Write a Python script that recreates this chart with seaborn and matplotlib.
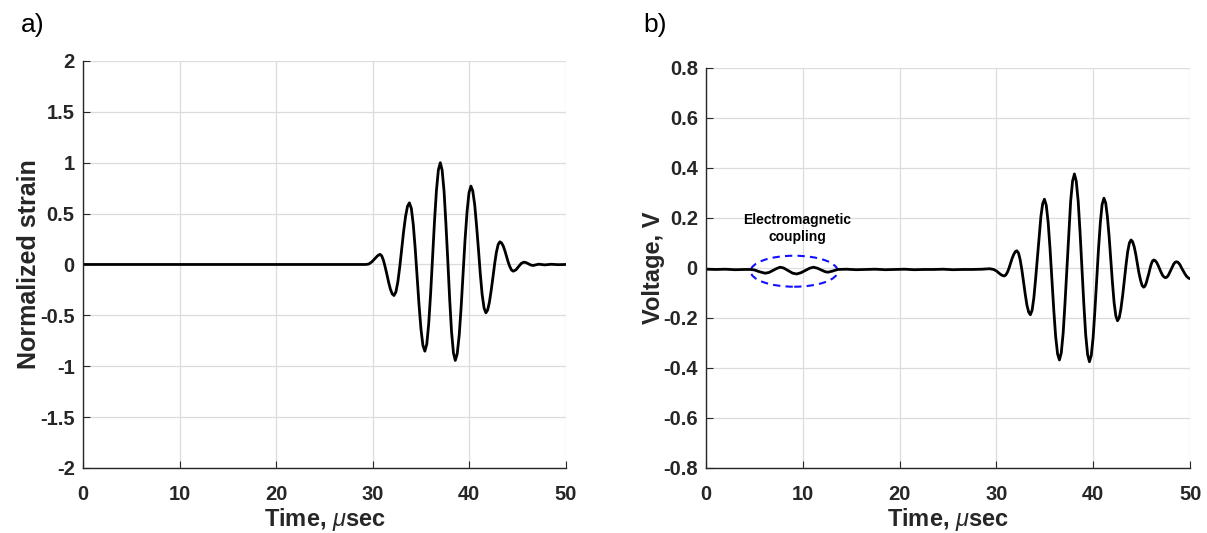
import numpy as np
import pandas as pd
import matplotlib
matplotlib.use("Agg")
import matplotlib.pyplot as plt
from matplotlib.patches import Ellipse
import seaborn as sns

# ---- Panel a) : normalized strain (read from picture) ----
time_a = [0.0, 10.0, 20.0, 29.0, 29.3, 29.6, 29.9, 30.2, 30.5, 30.75,
          30.93, 31.11, 31.29, 31.48, 31.66, 31.84, 32.02, 32.2,
          32.4, 32.6, 32.8, 33.0, 33.2, 33.4, 33.6, 33.8,
          34.0, 34.2, 34.4, 34.6, 34.8, 35.0, 35.2, 35.4,
          35.6, 35.8, 36.0, 36.2, 36.4, 36.6, 36.8, 37.0,
          37.19, 37.39, 37.58, 37.78, 37.97, 38.16, 38.36, 38.55,
          38.75, 38.96, 39.16, 39.36, 39.56, 39.77, 39.97, 40.17,
          40.36, 40.56, 40.75, 40.95, 41.14, 41.33, 41.53, 41.72,
          41.9, 42.08, 42.26, 42.45, 42.63, 42.81, 42.99, 43.17,
          43.34, 43.52, 43.69, 43.86, 44.03, 44.21, 44.38, 44.55,
          44.83, 45.1, 45.38, 45.65, 45.89, 46.13, 46.36, 46.6,
          47.2, 47.8, 48.5, 49.2, 50.0]
strain_a = [0.0, 0.0, 0.0, 0.0, 0.0, 0.005, 0.025, 0.055, 0.085, 0.10,
            0.085, 0.041, -0.025, -0.1025, -0.18, -0.246, -0.289, -0.305,
            -0.27, -0.172, -0.024, 0.15, 0.325, 0.472, 0.571, 0.606,
            0.551, 0.392, 0.156, -0.123, -0.402, -0.638, -0.797, -0.852,
            -0.782, -0.581, -0.28, 0.074, 0.428, 0.729, 0.93, 1.0,
            0.926, 0.716, 0.40, 0.029, -0.343, -0.658, -0.869, -0.943,
            -0.878, -0.692, -0.414, -0.087, 0.241, 0.519, 0.705, 0.77,
            0.723, 0.588, 0.386, 0.148, -0.091, -0.293, -0.428, -0.475,
            -0.448, -0.373, -0.26, -0.126, 0.008, 0.121, 0.196, 0.223,
            0.212, 0.181, 0.134, 0.079, 0.023, -0.024, -0.055, -0.066,
            -0.053, -0.0215, 0.01, 0.023, 0.018, 0.0065, -0.005, -0.01,
            0.003, -0.004, 0.002, -0.002, 0.0]

# ---- Panel b) : voltage (read from picture) ----
time_b = [0.0, 1.0, 2.0, 3.0, 4.0, 4.6, 5.0, 5.5, 6.1, 6.5, 6.9, 7.3, 7.64,
          8.0, 8.5, 8.95, 9.37, 9.8, 10.2, 10.7, 11.1, 11.5, 11.9, 12.3,
          12.6, 13.1, 13.6, 14.5, 15.5, 16.5, 17.5, 18.5, 19.5, 20.5,
          21.5, 22.5, 23.5, 24.5, 25.5, 26.5, 27.5, 28.5,
          29.3, 29.7, 30.0, 30.3, 30.55, 30.8,
          30.96, 31.13, 31.29, 31.45, 31.61, 31.78, 31.94, 32.1,
          32.28, 32.45, 32.63, 32.8, 32.98, 33.15, 33.33, 33.5,
          33.68, 33.86, 34.04, 34.23, 34.41, 34.59, 34.77, 34.95,
          35.14, 35.34, 35.53, 35.73, 35.92, 36.11, 36.31, 36.5,
          36.69, 36.89, 37.08, 37.28, 37.47, 37.66, 37.86, 38.05,
          38.24, 38.44, 38.63, 38.83, 39.02, 39.21, 39.41, 39.6,
          39.79, 39.98, 40.16, 40.35, 40.54, 40.73, 40.91, 41.1,
          41.28, 41.45, 41.63, 41.8, 41.98, 42.15, 42.33, 42.5,
          42.68, 42.85, 43.03, 43.2, 43.38, 43.55, 43.73, 43.9,
          44.06, 44.23, 44.39, 44.55, 44.71, 44.88, 45.04, 45.2,
          45.33, 45.46, 45.59, 45.73, 45.86, 45.99, 46.12, 46.25,
          46.4, 46.55, 46.7, 46.85, 47.0, 47.15, 47.3, 47.45,
          47.59, 47.74, 47.88, 48.03, 48.17, 48.31, 48.46, 48.6,
          48.77, 48.95, 49.12, 49.3, 49.47, 49.65, 49.82, 50.0]
volt_b = [-0.005, -0.006, -0.005, -0.007, -0.006, -0.006, -0.008, -0.015,
          -0.021, -0.018, -0.010, -0.002, 0.003,
          0.0, -0.011, -0.021, -0.024, -0.019, -0.011, -0.001, 0.003,
          -0.001, -0.008, -0.015,
          -0.017, -0.012, -0.006, -0.005, -0.007, -0.006, -0.005, -0.007,
          -0.006, -0.005, -0.007, -0.006, -0.006, -0.005, -0.007, -0.006,
          -0.006, -0.005,
          -0.003, -0.006, -0.012, -0.022, -0.029, -0.032,
          -0.028, -0.017, -0.001, 0.019, 0.038, 0.054, 0.065, 0.069,
          0.059, 0.032, -0.010, -0.059, -0.108, -0.15, -0.177, -0.187,
          -0.169, -0.119, -0.044, 0.044, 0.132, 0.207, 0.257, 0.275,
          0.251, 0.181, 0.077, -0.047, -0.17, -0.274, -0.344, -0.368,
          -0.34, -0.259, -0.138, 0.004, 0.146, 0.267, 0.348, 0.376,
          0.347, 0.266, 0.144, 0.0, -0.143, -0.265, -0.346, -0.375,
          -0.35, -0.279, -0.173, -0.048, 0.077, 0.183, 0.254, 0.279,
          0.26, 0.207, 0.128, 0.034, -0.06, -0.139, -0.192, -0.211,
          -0.199, -0.164, -0.111, -0.05, 0.012, 0.065, 0.10, 0.112,
          0.105, 0.084, 0.054, 0.018, -0.019, -0.049, -0.07, -0.077,
          -0.073, -0.061, -0.043, -0.023, -0.002, 0.016, 0.028, 0.032,
          0.029, 0.022, 0.01, -0.004, -0.017, -0.029, -0.036, -0.039,
          -0.037, -0.03, -0.019, -0.007, 0.005, 0.016, 0.023, 0.025,
          0.022, 0.013, 0.0, -0.012, -0.024, -0.034, -0.04, -0.043]

xticks = [0, 10, 20, 30, 40, 50]
yticks_a = [-2, -1.5, -1, -0.5, 0, 0.5, 1, 1.5, 2]
ytick_labels_a = ["-2", "-1.5", "-1", "-0.5", "0", "0.5", "1", "1.5", "2"]
yticks_b = [-0.8, -0.6, -0.4, -0.2, 0, 0.2, 0.4, 0.6, 0.8]
ytick_labels_b = ["-0.8", "-0.6", "-0.4", "-0.2", "0", "0.2", "0.4", "0.6", "0.8"]

sns.set_theme(style="whitegrid")
plt.rcParams["font.family"] = ["Liberation Sans", "DejaVu Sans"]
plt.rcParams["mathtext.fontset"] = "custom"
plt.rcParams["mathtext.it"] = "Liberation Sans:italic"
plt.rcParams["mathtext.rm"] = "Liberation Sans:bold"

TXT = "#262626"
fig = plt.figure(figsize=(12.07, 5.33), dpi=100)
ax1 = fig.add_axes([0.0688, 0.122, 0.400, 0.7636])
ax2 = fig.add_axes([0.585, 0.122, 0.401, 0.7505])

df_a = pd.DataFrame({"t": time_a, "v": strain_a})
df_b = pd.DataFrame({"t": time_b, "v": volt_b})
sns.lineplot(data=df_a, x="t", y="v", ax=ax1, color="black", lw=2.0,
             sort=False, estimator=None)
sns.lineplot(data=df_b, x="t", y="v", ax=ax2, color="black", lw=2.0,
             sort=False, estimator=None)

for ax, yt, ytl, ylim, ylab, ylx in [
        (ax1, yticks_a, ytick_labels_a, (-2, 2), "Normalized strain", 18),
        (ax2, yticks_b, ytick_labels_b, (-0.8, 0.8), "Voltage, V", 17)]:
    ax.set_facecolor("white")
    ax.set_xlim(0, 50)
    ax.set_ylim(*ylim)
    ax.set_xticks(xticks)
    ax.set_xticklabels([str(x) for x in xticks])
    ax.set_yticks(yt)
    ax.set_yticklabels(ytl)
    ax.grid(True, color="#dcdcdc", lw=0.9)
    for s in ["top", "right"]:
        ax.spines[s].set_visible(False)
    for s in ["left", "bottom"]:
        ax.spines[s].set_visible(True)
        ax.spines[s].set_color(TXT)
        ax.spines[s].set_linewidth(1.0)
    ax.tick_params(axis="both", direction="in", length=5, width=0.8,
                   color=TXT, labelcolor=TXT, labelsize=14.5,
                   left=True, bottom=True, top=False, right=False)
    ax.tick_params(axis="x", pad=12.5)
    ax.tick_params(axis="y", pad=6)
    for lab in ax.get_xticklabels() + ax.get_yticklabels():
        lab.set_fontweight("bold")
    ax.set_xlabel(r"Time, $\mu$sec", fontsize=17, fontweight="bold",
                  color=TXT, labelpad=1.5)
    ax.set_ylabel(ylab, fontsize=ylx, fontweight="bold", color=TXT,
                  labelpad=-1)

ell = Ellipse((9.1, -0.013), 9.0, 0.124, fill=False, edgecolor="#1010ff",
              lw=1.5, ls=(0, (3.5, 2.5)))
ax2.add_patch(ell)
ax2.text(9.4, 0.157, "Electromagnetic\ncoupling", ha="center", va="center",
         fontsize=10, fontweight="bold", color="black", linespacing=1.25)

fig.text(0.017, 0.953, "a)", fontsize=19, color="black", va="center")
fig.text(0.533, 0.953, "b)", fontsize=19, color="black", va="center")

fig.savefig("out.png", dpi=100, facecolor="white")
